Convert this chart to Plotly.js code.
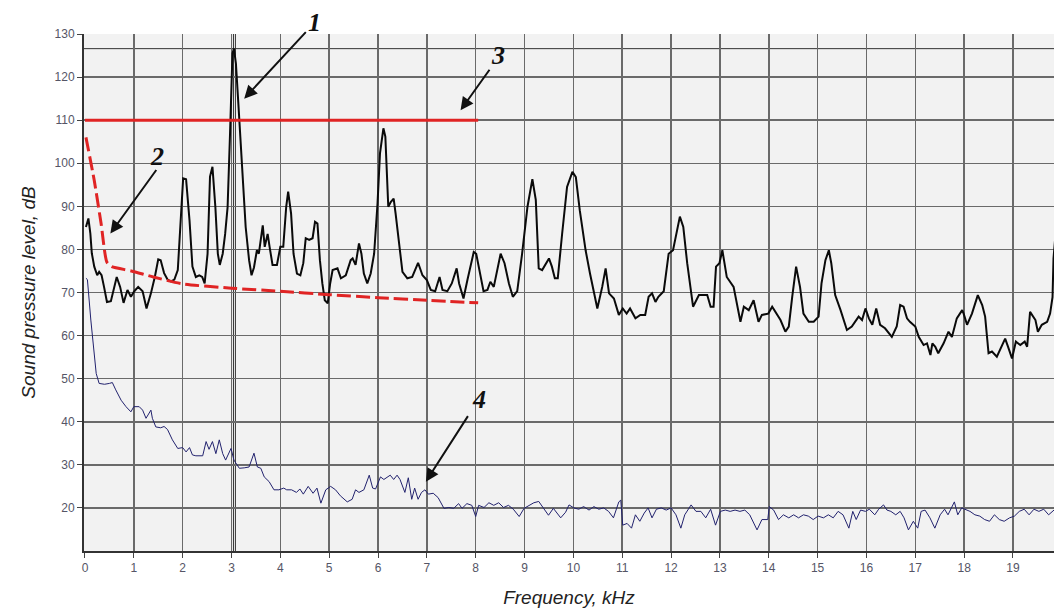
<!DOCTYPE html>
<html>
<head>
<meta charset="utf-8">
<script src="https://cdn.plot.ly/plotly-3.0.1.min.js"></script>
<style>html,body{margin:0;padding:0;background:#fff;}#chart{width:1054px;height:611px;}</style>
</head>
<body>
<div id="chart"></div>
<script>
// Curve 1: measured spectrum (kHz, dB)
const spectrumFreq = [0.02,0.07,0.11,0.14,0.19,0.25,0.29,0.34,0.39,0.45,0.53,0.65,0.72,0.79,0.87,0.94,1.01,1.09,1.18,1.26,1.35,1.43,1.50,1.55,1.62,1.69,1.76,1.83,1.90,1.96,2.01,2.07,2.14,2.20,2.27,2.34,2.40,2.45,2.51,2.56,2.61,2.67,2.72,2.76,2.82,2.87,2.92,2.97,3.02,3.05,3.09,3.14,3.19,3.25,3.29,3.36,3.41,3.46,3.52,3.56,3.60,3.64,3.68,3.74,3.78,3.84,3.93,4.00,4.06,4.12,4.16,4.22,4.27,4.34,4.41,4.47,4.52,4.59,4.66,4.71,4.76,4.81,4.86,4.91,4.97,5.02,5.07,5.17,5.24,5.34,5.44,5.48,5.54,5.61,5.66,5.71,5.78,5.85,5.92,5.99,6.04,6.11,6.15,6.21,6.26,6.32,6.36,6.43,6.50,6.60,6.70,6.82,6.91,7.00,7.08,7.17,7.26,7.32,7.42,7.51,7.61,7.66,7.75,7.83,7.96,8.01,8.09,8.16,8.24,8.30,8.37,8.51,8.59,8.68,8.76,8.85,8.95,9.06,9.16,9.23,9.29,9.36,9.50,9.56,9.62,9.68,9.77,9.87,9.98,10.05,10.13,10.25,10.34,10.42,10.49,10.59,10.66,10.73,10.83,10.93,11.01,11.09,11.16,11.27,11.37,11.47,11.54,11.61,11.68,11.74,11.85,11.95,12.04,12.18,12.25,12.33,12.45,12.57,12.67,12.74,12.81,12.87,12.92,12.99,13.05,13.14,13.28,13.42,13.49,13.59,13.69,13.79,13.86,13.99,14.07,14.17,14.24,14.34,14.41,14.48,14.56,14.64,14.71,14.82,14.92,15.02,15.08,15.16,15.23,15.28,15.36,15.47,15.60,15.70,15.77,15.84,15.91,15.98,16.05,16.12,16.20,16.28,16.38,16.52,16.62,16.69,16.76,16.83,16.89,17.00,17.07,17.17,17.24,17.31,17.35,17.41,17.47,17.58,17.68,17.75,17.85,17.96,17.99,18.06,18.16,18.28,18.37,18.43,18.50,18.57,18.67,18.77,18.84,18.90,18.98,19.06,19.15,19.24,19.29,19.35,19.46,19.51,19.59,19.70,19.76,19.81,19.83,19.86];
const spectrumLevel = [85.2,87.2,83.7,79.1,76,74,74.8,74,71.3,67.8,68,73.6,71.3,67.6,70.6,69,70.3,71.3,70.3,66.3,69.8,73.6,77.7,77.5,74.5,73,72.6,73,75.2,86.8,96.5,96.3,86.8,76,73.6,74,73.6,72.1,79,96.9,99.2,89.8,79,76.4,79,83.6,89.8,106.9,125.5,126.6,123.2,113.9,103.8,94.5,85.2,77.5,74,75.8,79.8,79,82.2,85.6,80.6,83.6,80.6,76.4,76.4,80.6,80.6,89.9,93.4,88.3,79,74.4,74,76.8,82.6,82.2,82.6,86.4,86,77.5,72.1,68.2,67.5,72.1,75.2,75.6,73.3,74,77.5,77.9,76.4,81.4,79,74.4,72.1,74.4,79,90.7,102.3,108.1,106.2,89.9,91,91.8,88.3,82.2,74.8,73.3,73.6,76.9,74,72.9,70.6,70.3,73.6,70.6,70.3,72.1,75.6,72.1,68.6,72.9,79.4,79,74.4,70.3,70.6,72.5,71.3,79,76.8,72.1,69,70.3,79,89.9,96.3,91.5,75.6,75.2,77.9,76,73.3,73.3,83.7,94.5,98,96.8,89.1,79.8,74.4,69.8,66.3,71.3,75.6,69.8,68.6,64.8,66.3,65.1,66.3,64,64.8,64.8,69,69.8,67.8,69,70.3,79,79.8,87.6,85.2,76.8,66.7,69.4,69.4,69.4,66.7,66.7,76,76.8,79.8,73.6,71.3,63.2,66.7,65.9,68.2,63.2,64.8,65.1,66.7,64.8,63.6,60.9,62.1,69,76,71.3,65.1,63.2,63.2,64.4,72.1,77.5,79.8,76.8,69.4,65.9,61.3,62.1,63.2,64.4,63.6,66.3,64,62.5,66.3,62.5,61.7,59.7,62.1,67.1,66.7,64,63.2,62.1,59.7,57.8,58.2,55.5,58.2,57.4,55.9,58.2,60.9,59.7,64,65.9,65.1,62.5,65.1,69.4,67.1,64.4,55.9,56.3,55.1,57.4,59.3,57.4,54.7,58.6,57.8,58.6,57.4,65.5,63.6,60.9,62.5,63.2,65.1,68.9,77.9,82];

// Curve 2: dashed red threshold
const thresholdFreq = [0.02,0.19,0.33,0.45,0.55,0.95,1.4,2.0,3.0,4.0,5.0,6.0,7.0,8.05];
const thresholdLevel = [106,96,86,77,76,75,73.6,72,71,70.3,69.5,68.8,68.2,67.6];

// Curve 3: solid red limit
const limitFreq = [0, 8.05];
const limitLevel = [110, 110];

// Curve 4: background noise
const noiseFreq = [0.02,0.05,0.12,0.18,0.23,0.29,0.40,0.50,0.56,0.63,0.74,0.84,0.94,1.00,1.11,1.18,1.25,1.35,1.38,1.45,1.55,1.62,1.69,1.79,1.90,2.00,2.07,2.14,2.20,2.27,2.41,2.48,2.54,2.61,2.68,2.75,2.82,2.88,2.99,3.05,3.16,3.26,3.36,3.46,3.53,3.60,3.67,3.77,3.87,3.97,4.07,4.13,4.23,4.33,4.40,4.47,4.57,4.67,4.75,4.83,4.93,5.03,5.13,5.23,5.37,5.47,5.54,5.61,5.71,5.82,5.89,5.95,6.05,6.12,6.19,6.25,6.32,6.39,6.45,6.55,6.62,6.69,6.75,6.82,6.89,6.96,7.03,7.13,7.23,7.35,7.45,7.55,7.65,7.72,7.82,7.92,8.00,8.06,8.17,8.27,8.37,8.47,8.57,8.67,8.77,8.89,8.99,9.09,9.19,9.29,9.39,9.49,9.59,9.74,9.84,9.91,10.01,10.11,10.21,10.32,10.42,10.52,10.62,10.72,10.82,10.93,10.97,11.01,11.10,11.19,11.27,11.36,11.45,11.53,11.61,11.70,11.80,11.90,12.00,12.10,12.20,12.28,12.41,12.51,12.61,12.71,12.81,12.91,13.01,13.11,13.21,13.31,13.41,13.51,13.61,13.76,13.86,13.98,14.01,14.10,14.20,14.30,14.41,14.51,14.61,14.71,14.81,14.91,15.01,15.12,15.22,15.32,15.42,15.52,15.64,15.72,15.79,15.88,15.98,16.06,16.17,16.25,16.35,16.42,16.50,16.60,16.69,16.77,16.86,16.96,17.05,17.12,17.20,17.30,17.40,17.51,17.60,17.67,17.80,17.87,17.95,18.01,18.12,18.22,18.32,18.42,18.52,18.62,18.72,18.82,18.93,19.03,19.13,19.23,19.33,19.43,19.53,19.63,19.73,19.86];
const noiseLevel = [73.3,73,63.6,56.6,51.2,48.9,48.7,48.9,49.1,47.4,45,43.5,42.3,43.5,43.5,42.7,40.8,42.7,40.8,38.8,38.6,38.9,38.2,35.8,33.8,34,33,34,32.3,32.1,32.1,35.4,33.6,35.4,32.6,35.8,32.6,31.1,33.8,31.1,29.2,29.3,29.5,32.7,29.5,29.2,27.2,26.1,24.2,24.2,24.6,24.2,24.2,23.6,24.4,23.2,25,23.4,24.6,21.1,24.2,25,24.2,22.8,21.4,22,24.2,23.6,24.2,27.6,24.6,24.4,27.2,26.6,27.2,27.6,26.6,27.6,26.6,23.6,27,22,24.6,22,23.6,24.2,23.2,23.4,22.4,19.9,20.1,19.9,21,19.9,21,20.6,18,20.6,20.1,21.2,20.6,21.2,20.1,20.6,19.7,18,19.9,20.6,21.2,21.5,19.9,18.3,19.9,17.7,19,20.7,20,19.7,20.3,19.5,20.3,19.7,20,19.2,17.7,21.4,21.8,16,16.4,15.3,18.4,16.9,18.8,20,17.7,19.7,20,19.5,20,18.4,15.3,18.4,20.7,19.2,19.2,17.7,19.7,16,19.2,19.5,19.2,19.5,19.2,19.5,18.4,14.9,17.3,17.3,20.3,19.5,17.3,18.4,17.7,18.4,17.7,18.4,18.1,17.3,18.1,17.7,18.4,17.7,19.2,18.4,15.3,19.2,17.3,19.5,19.2,19.7,18.4,19.7,20.7,19.5,19.2,18.4,19.2,17.7,14.9,16.9,15.3,19.2,19.5,17.7,15.3,18.4,19.7,18.4,21.4,18.4,20,19.7,19.2,18.4,18.1,17.3,16.9,18.4,17.3,16.9,17.7,18.1,19.2,19.7,18.4,19.7,19.2,19.7,18.4,19.7];

// Cursor cross-hair at the main peak
const cursorFreq = [3.04, 3.08];
const cursorLevel = [126.6];

const xTicks = [0,1,2,3,4,5,6,7,8,9,10,11,12,13,14,15,16,17,18,19];
const yTicks = [20,30,40,50,60,70,80,90,100,110,120,130];
const yRange = [10, 130];

// Annotation labels and arrow targets
const labelText = ['1','2','3','4'];
const arrowHeadFreq = [3.26, 0.52, 7.69, 6.98];
const arrowHeadLevel = [115.0, 83.7, 112.3, 26.1];
const labelFreq = [4.70, 1.48, 8.45, 8.07];
const labelLevel = [132.6, 101.5, 125.0, 45.2];

const traces = [
  {x: noiseFreq, y: noiseLevel, type: 'scatter', mode: 'lines',
   line: {color: '#22226e', width: 1}, hoverinfo: 'skip'},
  {x: spectrumFreq, y: spectrumLevel, type: 'scatter', mode: 'lines',
   line: {color: '#0a0a0a', width: 2}, hoverinfo: 'skip'},
  {x: thresholdFreq, y: thresholdLevel, type: 'scatter', mode: 'lines',
   line: {color: '#e02424', width: 3, dash: '14px,5px', shape: 'spline', smoothing: 0.6}, hoverinfo: 'skip'},
  {x: limitFreq, y: limitLevel, type: 'scatter', mode: 'lines',
   line: {color: '#e02424', width: 3}, hoverinfo: 'skip'}
];

const shapes = [];
cursorFreq.forEach(f => shapes.push({type: 'line', xref: 'x', yref: 'paper', x0: f, x1: f, y0: 0, y1: 1,
  line: {color: '#333', width: 1}, layer: 'below'}));
cursorLevel.forEach(l => shapes.push({type: 'line', xref: 'paper', yref: 'y', x0: 0, x1: 1, y0: l, y1: l,
  line: {color: '#333', width: 1}, layer: 'below'}));

const annFont = {family: 'Liberation Serif, Times New Roman, serif', size: 26, color: '#111', weight: 'bold', style: 'italic'};
const annotations = [];
labelText.forEach((t, i) => {
  annotations.push({x: labelFreq[i], y: (labelLevel[i] - yRange[0]) / (yRange[1] - yRange[0]),
    xref: 'x', yref: 'paper', xanchor: 'center', yanchor: 'middle', text: t, showarrow: false, font: annFont});
});
const arrowOffsets = [[63, -68], [47, -65], [30, -42], [43, -67]];
arrowHeadFreq.forEach((f, i) => {
  annotations.push({x: f, y: arrowHeadLevel[i], xref: 'x', yref: 'y', text: '', showarrow: true,
    ax: arrowOffsets[i][0], ay: arrowOffsets[i][1], arrowhead: 2, arrowsize: 1.3, arrowwidth: 2, arrowcolor: '#111', standoff: 0});
});

const layout = {
  width: 1054, height: 611,
  margin: {l: 84, r: 0, t: 34, b: 60},
  paper_bgcolor: '#ffffff',
  plot_bgcolor: '#f2f2f2',
  showlegend: false,
  font: {family: 'Liberation Sans, Arial, sans-serif', color: '#555566'},
  xaxis: {
    range: [-0.02, 19.84],
    tickvals: xTicks, ticktext: xTicks.map(String),
    showgrid: true, gridcolor: '#6a6a6a', gridwidth: 1.5,
    zeroline: false, showline: true, linecolor: '#333', linewidth: 2,
    ticks: 'outside', ticklen: 5, tickcolor: '#444', tickwidth: 1,
    tickfont: {size: 12, color: '#555566'},
    title: {text: 'Frequency, kHz', font: {size: 19, color: '#222', style: 'italic'}, standoff: 16}
  },
  yaxis: {
    range: yRange,
    tickvals: yTicks, ticktext: yTicks.map(String),
    showgrid: true, gridcolor: '#6a6a6a', gridwidth: 1.5,
    zeroline: false, showline: true, linecolor: '#333', linewidth: 2,
    ticks: 'outside', ticklen: 5, tickcolor: '#444', tickwidth: 1,
    tickfont: {size: 12, color: '#555566'},
    title: {text: 'Sound pressure level, dB', font: {size: 19, color: '#222', style: 'italic'}, standoff: 14}
  },
  shapes: shapes,
  annotations: annotations
};

Plotly.newPlot('chart', traces, layout, {staticPlot: true, displayModeBar: false});
</script>
</body>
</html>
